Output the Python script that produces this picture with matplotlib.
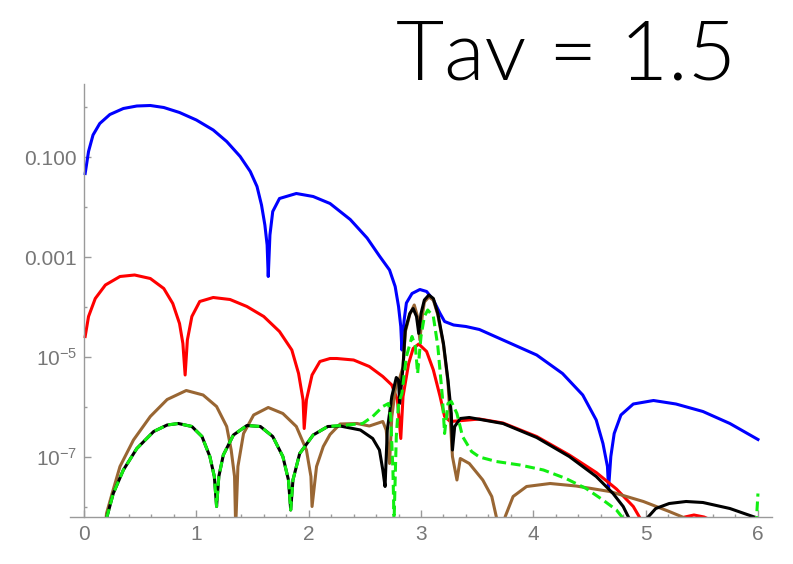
import numpy as np
import matplotlib
matplotlib.use("Agg")
import matplotlib.pyplot as plt
import matplotlib.font_manager as fm
from matplotlib.ticker import FixedLocator, FixedFormatter

# values: x and log10(y)
blue_x = [0.01, 0.04, 0.08, 0.14, 0.23, 0.35, 0.47, 0.59, 0.71, 0.85, 1.00, 1.15, 1.27, 1.39, 1.48,
          1.54, 1.58, 1.61, 1.63, 1.64, 1.655, 1.68, 1.74, 1.89, 2.04, 2.19, 2.37, 2.52, 2.63, 2.72,
          2.77, 2.80, 2.82, 2.83, 2.85, 2.87, 2.92, 2.99, 3.05, 3.11, 3.17, 3.21, 3.29, 3.40, 3.52,
          3.73, 4.03, 4.26, 4.44, 4.56, 4.62, 4.66, 4.67, 4.69, 4.72, 4.78, 4.89, 5.07, 5.27, 5.51,
          5.75, 6.00]
blue_log = [-1.33, -0.89, -0.56, -0.33, -0.15, -0.03, 0.02, 0.03, -0.01, -0.11, -0.26, -0.46, -0.69, -0.99, -1.29,
            -1.59, -1.96, -2.36, -2.76, -3.39, -2.56, -2.09, -1.83, -1.73, -1.79, -1.93, -2.25, -2.62, -2.98, -3.26,
            -3.59, -3.99, -4.39, -4.86, -4.26, -3.92, -3.73, -3.65, -3.69, -3.86, -4.13, -4.29, -4.36, -4.39, -4.45,
            -4.66, -4.96, -5.33, -5.76, -6.26, -6.73, -7.19, -7.63, -6.99, -6.53, -6.16, -5.94, -5.87, -5.94, -6.09,
            -6.33, -6.65]

red_x = [0.01, 0.04, 0.10, 0.19, 0.32, 0.45, 0.59, 0.71, 0.79, 0.85, 0.88, 0.90, 0.92, 0.96, 1.03,
         1.15, 1.30, 1.45, 1.60, 1.74, 1.85, 1.91, 1.95, 1.96, 1.98, 2.03, 2.10, 2.19, 2.25, 2.40,
         2.54, 2.66, 2.74, 2.79, 2.82, 2.84, 2.89, 2.93, 2.98, 3.05, 3.11, 3.17, 3.21, 3.26, 3.37,
         3.52, 3.73, 4.03, 4.32, 4.56, 4.74, 4.89, 4.96, 5.25, 5.35, 5.43, 5.52, 5.62]
red_log = [-4.59, -4.19, -3.83, -3.56, -3.39, -3.36, -3.43, -3.63, -3.93, -4.33, -4.73, -5.36, -4.66, -4.19, -3.89,
           -3.81, -3.85, -3.99, -4.19, -4.49, -4.86, -5.33, -5.86, -6.43, -5.86, -5.36, -5.09, -5.03, -5.03, -5.06,
           -5.19, -5.39, -5.56, -5.86, -6.63, -5.79, -5.13, -4.83, -4.74, -4.89, -5.26, -5.79, -6.19, -6.29, -6.27,
           -6.24, -6.32, -6.59, -6.96, -7.31, -7.64, -7.99, -8.26, -8.30, -8.20, -8.16, -8.20, -8.30]

brown_x = [0.19, 0.20, 0.25, 0.32, 0.44, 0.59, 0.74, 0.91, 1.06, 1.18, 1.27, 1.31, 1.34, 1.35, 1.37,
           1.42, 1.51, 1.64, 1.77, 1.89, 1.98, 2.02, 2.03, 2.07, 2.13, 2.19, 2.28, 2.43, 2.54, 2.66,
           2.69, 2.72, 2.74, 2.78, 2.80, 2.84, 2.86, 2.90, 2.94, 2.97, 2.99, 3.01, 3.03, 3.07, 3.11,
           3.15, 3.20, 3.24, 3.28, 3.32, 3.35, 3.43, 3.55, 3.63, 3.67, 3.70, 3.73, 3.75, 3.82, 3.94,
           4.15, 4.38, 4.68, 4.98, 5.21, 5.36, 5.45]
brown_log = [-8.40, -8.13, -7.73, -7.19, -6.66, -6.19, -5.85, -5.67, -5.76, -5.99, -6.39, -6.86, -7.39, -8.40, -7.19,
             -6.53, -6.16, -6.01, -6.13, -6.39, -6.86, -7.39, -7.99, -7.19, -6.79, -6.55, -6.34, -6.33, -6.38, -6.29,
             -6.46, -7.13, -6.20, -5.50, -5.50, -5.20, -4.50, -4.15, -3.96, -4.20, -4.66, -4.20, -3.90, -3.80, -3.86,
             -4.16, -4.76, -5.50, -6.99, -7.46, -7.03, -7.13, -7.46, -7.79, -8.19, -8.50, -8.50, -8.19, -7.79, -7.59,
             -7.53, -7.58, -7.69, -7.89, -8.09, -8.23, -8.35]

black_x = [0.20, 0.26, 0.35, 0.47, 0.62, 0.74, 0.84, 0.96, 1.05, 1.12, 1.16, 1.18, 1.20, 1.24, 1.33,
           1.45, 1.57, 1.68, 1.77, 1.82, 1.84, 1.86, 1.92, 2.04, 2.17, 2.28, 2.46, 2.57, 2.63, 2.66,
           2.68, 2.70, 2.74, 2.78, 2.80, 2.81, 2.84, 2.86, 2.90, 2.93, 2.96, 2.98, 3.00, 3.03, 3.07,
           3.11, 3.15, 3.20, 3.24, 3.27, 3.28, 3.30, 3.35, 3.43, 3.73, 4.03, 4.32, 4.56, 4.71, 4.80,
           4.86, 4.90, 4.98, 5.01, 5.09, 5.21, 5.36, 5.51, 5.75, 5.98, 6.00]
black_log = [-8.23, -7.73, -7.26, -6.83, -6.49, -6.36, -6.33, -6.39, -6.59, -6.99, -7.39, -7.99, -7.39, -6.96, -6.56,
             -6.37, -6.39, -6.59, -6.99, -7.46, -8.06, -7.46, -6.93, -6.56, -6.39, -6.38, -6.46, -6.63, -6.86, -7.26,
             -7.59, -6.46, -5.79, -5.41, -5.46, -5.93, -5.19, -4.46, -4.13, -4.03, -4.19, -4.53, -4.13, -3.86, -3.76,
             -3.83, -4.13, -4.73, -5.46, -6.13, -6.86, -6.39, -6.23, -6.21, -6.33, -6.61, -6.99, -7.39, -7.73, -7.99,
             -8.26, -8.50, -8.50, -8.23, -8.03, -7.93, -7.89, -7.91, -8.03, -8.21, -8.25]

green_x = [0.20, 0.26, 0.35, 0.47, 0.62, 0.74, 0.84, 0.96, 1.05, 1.12, 1.16, 1.18, 1.20, 1.24, 1.33,
           1.45, 1.57, 1.68, 1.77, 1.82, 1.84, 1.86, 1.92, 2.04, 2.17, 2.34, 2.48, 2.57, 2.66, 2.71,
           2.73, 2.75, 2.76, 2.78, 2.80, 2.83, 2.87, 2.92, 2.95, 2.97, 3.00, 3.03, 3.06, 3.11, 3.15,
           3.19, 3.21, 3.24, 3.27, 3.32, 3.37, 3.45, 3.52, 3.67, 3.88, 4.09, 4.29, 4.47, 4.62, 4.74,
           4.80, 4.83, 5.98, 6.00]
green_log = [-8.23, -7.73, -7.26, -6.83, -6.49, -6.36, -6.33, -6.39, -6.59, -6.99, -7.39, -7.99, -7.39, -6.96, -6.56,
             -6.37, -6.39, -6.59, -6.99, -7.46, -8.06, -7.46, -6.93, -6.56, -6.39, -6.36, -6.33, -6.19, -5.99, -5.93,
             -6.19, -7.26, -8.30, -6.59, -5.93, -5.73, -4.99, -4.59, -4.79, -5.33, -4.59, -4.19, -4.06, -4.19, -4.79,
             -5.79, -6.53, -5.93, -5.89, -6.13, -6.59, -6.89, -7.00, -7.09, -7.16, -7.26, -7.43, -7.63, -7.86, -8.06,
             -8.23, -8.50, -8.50, -7.73]

x_ticks = [0, 1, 2, 3, 4, 5, 6]
y_ticks = [1e-1, 1e-3, 1e-5, 1e-7]
y_labels = ["0.100", "0.001", r"$\mathregular{10^{-5}}$", r"$\mathregular{10^{-7}}$"]
y_minor = [1e0, 1e-2, 1e-4, 1e-6, 1e-8]

plt.rcParams['font.family'] = ['Liberation Sans', 'DejaVu Sans']
plt.rcParams['mathtext.fontset'] = 'custom'
plt.rcParams['mathtext.rm'] = 'Liberation Sans'
plt.rcParams['lines.scale_dashes'] = False

# thin sans for the big label, if a light cut is installed
title_file = None
for fam in ['Lato', 'Roboto', 'Open Sans', 'Inter', 'Noto Sans']:
    for f in fm.fontManager.ttflist:
        if f.name == fam and f.weight == 300 and f.style == 'normal':
            title_file = f.fname
            break
    if title_file:
        break

fig = plt.figure(figsize=(7.93, 5.64), dpi=100)
ax = fig.add_axes([70 / 793, 1 - 517 / 564, 702 / 793, 433 / 564])

lw = 2.2
ax.plot(blue_x, 10 ** np.array(blue_log), color='#0000ff', lw=lw)
ax.plot(red_x, 10 ** np.array(red_log), color='#ff0000', lw=lw)
ax.plot(brown_x, 10 ** np.array(brown_log), color='#996633', lw=lw)
ax.plot(black_x, 10 ** np.array(black_log), color='black', lw=lw)
ax.plot(green_x, 10 ** np.array(green_log), color='#11ee11', lw=lw, dashes=(7, 3.5))

ax.set_yscale('log')
ax.set_xlim(-0.125, 6.125)
ax.set_ylim(10 ** -8.2, 10 ** 0.46)

gray = '#9a9a9a'
ax.spines['top'].set_visible(False)
ax.spines['right'].set_visible(False)
ax.spines['left'].set_position(('data', 0))
for s in ('left', 'bottom'):
    ax.spines[s].set_color(gray)
    ax.spines[s].set_linewidth(1.0)

ax.xaxis.set_major_locator(FixedLocator(x_ticks))
ax.xaxis.set_minor_locator(FixedLocator(np.arange(0, 6.01, 0.2)))
ax.yaxis.set_major_locator(FixedLocator(y_ticks))
ax.yaxis.set_major_formatter(FixedFormatter(y_labels))
ax.yaxis.set_minor_locator(FixedLocator(y_minor))
ax.yaxis.set_minor_formatter(FixedFormatter([""] * len(y_minor)))

ax.tick_params(which='both', direction='in', color=gray, labelcolor='#777777', labelsize=15, width=1.0)
ax.tick_params(which='major', length=5)
ax.tick_params(which='minor', length=2.5)
ax.tick_params(axis='x', pad=6)
ax.tick_params(axis='y', pad=5)

if title_file:
    tprops = fm.FontProperties(fname=title_file, size=60)
else:
    tprops = fm.FontProperties(family='Liberation Sans', size=55)
fig.text(736 / 793, 1 - 80 / 564, "Tav = 1.5", ha='right', va='baseline', fontproperties=tprops)

fig.savefig('out.png', dpi=100)
